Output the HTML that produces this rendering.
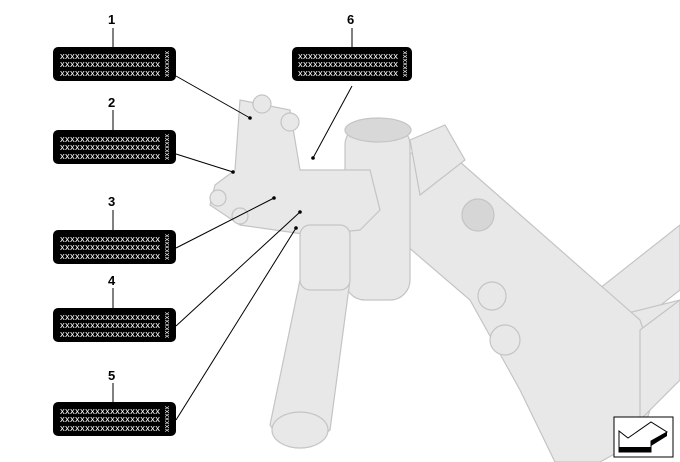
<!DOCTYPE html>
<html><head><meta charset="utf-8"><style>
html,body{margin:0;padding:0;background:#fff}
svg{display:block}
.lbl{font-family:"Liberation Sans",sans-serif;font-weight:bold;font-size:13px;fill:#000}
.x{font-family:"Liberation Sans",sans-serif;font-size:9.5px;fill:#fff}
.xv{font-family:"Liberation Sans",sans-serif;font-size:7px;fill:#fff}
</style></head><body>
<svg width="680" height="462" viewBox="0 0 680 462" xmlns="http://www.w3.org/2000/svg">
<g fill="#e8e8e8" stroke="#c4c4c4" stroke-width="1.2">
<polygon points="585,300 680,225 680,290 610,345"/>
<polygon points="560,330 680,300 680,345 575,370"/>
<polygon points="390,165 435,140 640,320 660,380 640,440 600,462 555,462 520,390 470,300 400,240"/>
<polygon points="640,330 680,300 680,380 640,420"/>
<polygon points="410,140 445,125 465,160 420,195"/>
<rect x="345" y="125" width="65" height="175" rx="20"/>
<ellipse cx="378" cy="130" rx="33" ry="12" fill="#d8d8d8"/>
<polygon points="300,280 350,280 330,430 310,445 280,440 270,425"/>
<ellipse cx="300" cy="430" rx="28" ry="18"/>
<polygon points="240,100 290,110 300,170 370,170 380,210 360,230 310,235 240,225 210,205 215,185 235,170"/>
<circle cx="262" cy="104" r="9"/><circle cx="290" cy="122" r="9"/>
<circle cx="218" cy="198" r="8"/><circle cx="240" cy="216" r="8"/>
<rect x="300" y="225" width="50" height="65" rx="10"/>
<circle cx="478" cy="215" r="16" fill="#d6d6d6"/>
<circle cx="492" cy="296" r="14"/><circle cx="505" cy="340" r="15"/>
</g>
<g stroke="#000" stroke-width="1" fill="none">
<line x1="113" y1="28" x2="113" y2="47"/>
<line x1="113" y1="110" x2="113" y2="130"/>
<line x1="113" y1="210" x2="113" y2="230"/>
<line x1="113" y1="288" x2="113" y2="308"/>
<line x1="113" y1="383" x2="113" y2="402"/>
<line x1="352" y1="28" x2="352" y2="47"/>
<line x1="176" y1="76" x2="250" y2="118"/>
<line x1="176" y1="154" x2="233" y2="172"/>
<line x1="176" y1="248" x2="274" y2="198"/>
<line x1="176" y1="326" x2="300" y2="212"/>
<line x1="176" y1="420" x2="296" y2="228"/>
<line x1="352" y1="86" x2="313" y2="158"/>
</g>
<g fill="#000">
<circle cx="250" cy="118" r="1.8"/><circle cx="233" cy="172" r="1.8"/>
<circle cx="274" cy="198" r="1.8"/><circle cx="300" cy="212" r="1.8"/>
<circle cx="296" cy="228" r="1.8"/><circle cx="313" cy="158" r="1.8"/>
</g>
<text class="lbl" x="108" y="24">1</text>
<text class="lbl" x="108" y="107">2</text>
<text class="lbl" x="108" y="206">3</text>
<text class="lbl" x="108" y="285">4</text>
<text class="lbl" x="108" y="380">5</text>
<text class="lbl" x="347" y="24">6</text>
<g fill="#000">
<rect x="53" y="47" width="123" height="34" rx="5"/>
<rect x="53" y="130" width="123" height="34" rx="5"/>
<rect x="53" y="230" width="123" height="34" rx="5"/>
<rect x="53" y="308" width="123" height="34" rx="5"/>
<rect x="53" y="402" width="123" height="34" rx="5"/>
<rect x="292" y="47" width="120" height="34" rx="5"/>
</g>
<g class="x">
<text x="60" y="59" textLength="100">xxxxxxxxxxxxxxxxxxxx</text><text x="60" y="67" textLength="100">xxxxxxxxxxxxxxxxxxxx</text><text x="60" y="76" textLength="100">xxxxxxxxxxxxxxxxxxxx</text>
<text x="60" y="142" textLength="100">xxxxxxxxxxxxxxxxxxxx</text><text x="60" y="150" textLength="100">xxxxxxxxxxxxxxxxxxxx</text><text x="60" y="159" textLength="100">xxxxxxxxxxxxxxxxxxxx</text>
<text x="60" y="242" textLength="100">xxxxxxxxxxxxxxxxxxxx</text><text x="60" y="250" textLength="100">xxxxxxxxxxxxxxxxxxxx</text><text x="60" y="259" textLength="100">xxxxxxxxxxxxxxxxxxxx</text>
<text x="60" y="320" textLength="100">xxxxxxxxxxxxxxxxxxxx</text><text x="60" y="328" textLength="100">xxxxxxxxxxxxxxxxxxxx</text><text x="60" y="337" textLength="100">xxxxxxxxxxxxxxxxxxxx</text>
<text x="60" y="414" textLength="100">xxxxxxxxxxxxxxxxxxxx</text><text x="60" y="422" textLength="100">xxxxxxxxxxxxxxxxxxxx</text><text x="60" y="431" textLength="100">xxxxxxxxxxxxxxxxxxxx</text>
<text x="298" y="59" textLength="100">xxxxxxxxxxxxxxxxxxxx</text><text x="298" y="67" textLength="100">xxxxxxxxxxxxxxxxxxxx</text><text x="298" y="76" textLength="100">xxxxxxxxxxxxxxxxxxxx</text>
</g>
<g class="xv">
<text transform="translate(165,51) rotate(90)" textLength="26">xxxxxxx</text>
<text transform="translate(165,134) rotate(90)" textLength="26">xxxxxxx</text>
<text transform="translate(165,234) rotate(90)" textLength="26">xxxxxxx</text>
<text transform="translate(165,312) rotate(90)" textLength="26">xxxxxxx</text>
<text transform="translate(165,406) rotate(90)" textLength="26">xxxxxxx</text>
<text transform="translate(403,51) rotate(90)" textLength="26">xxxxxxx</text>
</g>
<rect x="614" y="417" width="59" height="40" fill="#fff" stroke="#000" stroke-width="1"/>
<polygon points="619,431 628,438 651,422 667,432 651,441 651,452 619,452" fill="#fff" stroke="#000" stroke-width="1"/>
<rect x="619" y="447" width="32" height="5" fill="#000"/>
<polygon points="651,441 667,432 667,436 651,446" fill="#000"/>
</svg>
</body></html>
